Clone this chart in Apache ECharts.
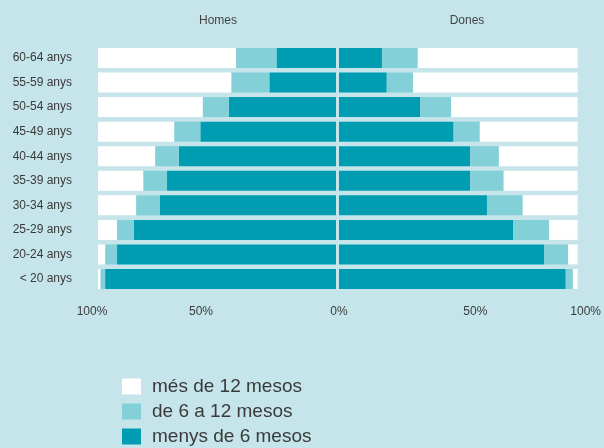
<!DOCTYPE html>
<html>
<head>
<meta charset="utf-8">
<script src="https://cdn.jsdelivr.net/npm/echarts@6/dist/echarts.min.js"></script>
<style>
  html, body { margin: 0; padding: 0; background: #c5e5ea; }
  #chart { width: 604px; height: 448px; }
</style>
</head>
<body>
<div id="chart"></div>
<script>
// Age groups, listed top to bottom
const categories = ['60-64 anys', '55-59 anys', '50-54 anys', '45-49 anys', '40-44 anys',
                    '35-39 anys', '30-34 anys', '25-29 anys', '20-24 anys', '< 20 anys'];

// Share of each duration group (%), men
const homesMenys6 = [25, 28, 45, 57, 66, 71, 74, 85, 92, 97];
const homes6a12   = [17, 16, 11, 11, 10, 10, 10,  7,  5,  2];
const homesMes12  = [58, 56, 44, 32, 24, 19, 16,  8,  3,  1];

// Share of each duration group (%), women
const donesMenys6 = [18, 20, 34, 48, 55, 55, 62, 73, 86, 95];
const dones6a12   = [15, 11, 13, 11, 12, 14, 15, 15, 10,  3];
const donesMes12  = [67, 69, 53, 41, 33, 31, 23, 12,  4,  2];

const seriesNames = ['més de 12 mesos', 'de 6 a 12 mesos', 'menys de 6 mesos'];
const panelTitles = ['Homes', 'Dones'];

const colMes12 = '#ffffff';
const colMid = '#84d0d9';
const colMenys6 = '#009db2';
const textCol = '#3a3a3a';
const font = 'Liberation Sans, Arial, Helvetica, sans-serif';

const chart = echarts.init(document.getElementById('chart'), null, { renderer: 'canvas' });

const gridTop = 45.7, gridHeight = 245.6;

function pct(v) { return v + '%'; }

// Small horizontal nudges so tick labels sit where the layout places them
function tickLabel(side) {
  return {
    show: true,
    color: textCol,
    fontSize: 12,
    fontFamily: font,
    margin: 14,
    formatter: function (v) {
      if (side === 'left') {
        if (v === 0) return '';
        if (v === 50) return '{l16|' + pct(v) + '}';
        return '{l6|' + pct(v) + '}';
      } else {
        if (v === 0) return pct(v);
        if (v === 50) return '{r17|' + pct(v) + '}';
        return '{r8|' + pct(v) + '}';
      }
    },
    rich: {
      l16: { padding: [0, 32, 0, 0], color: textCol, fontSize: 12, fontFamily: font },
      l6:  { padding: [0, 12, 0, 0], color: textCol, fontSize: 12, fontFamily: font },
      r17: { padding: [0, 0, 0, 34], color: textCol, fontSize: 12, fontFamily: font },
      r8:  { padding: [0, 0, 0, 16], color: textCol, fontSize: 12, fontFamily: font }
    }
  };
}

function barSeries(name, data, color, axisIdx, stack) {
  return {
    name: name,
    type: 'bar',
    stack: stack,
    xAxisIndex: axisIdx,
    yAxisIndex: axisIdx,
    barWidth: 20,
    data: data,
    itemStyle: { color: color },
    emphasis: { disabled: true },
    animation: false
  };
}

const option = {
  backgroundColor: '#c5e5ea',
  textStyle: { fontFamily: font },
  title: [
    { text: panelTitles[0], left: 213, top: 10, textAlign: 'center',
      textStyle: { fontSize: 12, fontWeight: 'normal', color: '#444', fontFamily: font } },
    { text: panelTitles[1], left: 462, top: 10, textAlign: 'center',
      textStyle: { fontSize: 12, fontWeight: 'normal', color: '#444', fontFamily: font } }
  ],
  legend: {
    orient: 'vertical',
    left: 122,
    top: 377,
    height: 100,
    padding: 0,
    itemWidth: 19,
    itemHeight: 16,
    itemGap: 6,
    icon: 'rect',
    data: seriesNames,
    selectedMode: false,
    textStyle: { fontSize: 19, color: textCol, fontFamily: font, lineHeight: 19, padding: [0, 0, 0, 6] }
  },
  grid: [
    { left: 98, width: 238, top: gridTop, height: gridHeight },
    { left: 339, width: 240, top: gridTop, height: gridHeight }
  ],
  xAxis: [
    { gridIndex: 0, type: 'value', min: 0, max: 100, interval: 50, inverse: true,
      axisLine: { show: false }, axisTick: { show: false }, splitLine: { show: false },
      axisLabel: tickLabel('left') },
    { gridIndex: 1, type: 'value', min: 0, max: 100, interval: 50,
      axisLine: { show: false }, axisTick: { show: false }, splitLine: { show: false },
      axisLabel: tickLabel('right') }
  ],
  yAxis: [
    { gridIndex: 0, type: 'category', data: categories, inverse: true,
      axisLine: { show: false }, axisTick: { show: false },
      axisLabel: { color: textCol, fontSize: 12, fontFamily: font, margin: 26 } },
    { gridIndex: 1, type: 'category', data: categories, inverse: true,
      axisLine: { show: false }, axisTick: { show: false },
      axisLabel: { show: false } }
  ],
  series: [
    barSeries(seriesNames[2], homesMenys6, colMenys6, 0, 'homes'),
    barSeries(seriesNames[1], homes6a12, colMid, 0, 'homes'),
    barSeries(seriesNames[0], homesMes12, colMes12, 0, 'homes'),
    barSeries(seriesNames[2], donesMenys6, colMenys6, 1, 'dones'),
    barSeries(seriesNames[1], dones6a12, colMid, 1, 'dones'),
    barSeries(seriesNames[0], donesMes12, colMes12, 1, 'dones')
  ]
};

chart.setOption(option);
</script>
</body>
</html>
